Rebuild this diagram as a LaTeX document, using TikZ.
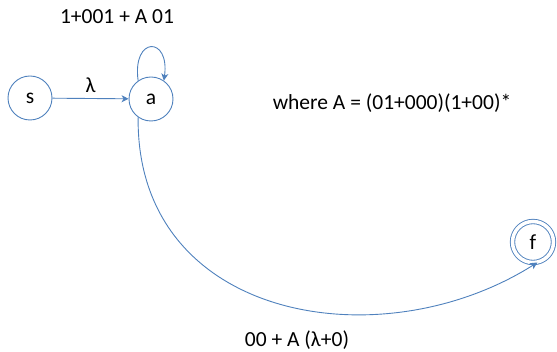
\documentclass[tikz,border=0pt]{standalone}
\usepackage{fontspec}
\setmainfont{Carlito}
\usepackage{tikz}
\usetikzlibrary{arrows.meta,positioning}
\definecolor{edgeblue}{RGB}{79,129,189}

\begin{document}
\begin{tikzpicture}[
  x=1pt, y=-1pt,
  >={Stealth[length=7pt,width=7pt,inset=2pt]},
  state/.style={circle,draw=edgeblue,line width=0.9pt,minimum size=44pt,inner sep=0pt,font=\fontsize{21.5}{25}\selectfont},
  accept/.style={state,minimum size=41pt,double=white,double distance=3.5pt},
  trans/.style={->,draw=edgeblue,line width=0.9pt},
  lab/.style={font=\fontsize{21.5}{25}\selectfont}
]
\useasboundingbox (0,0) rectangle (557,352);

% ===================== states =====================
\node[state] (s) at (30,98) {s};
\node[state] (a) at (151,99) {a};
\node[accept] (f) at (533,242) {f};

% ===================== transitions =====================
\draw[trans] (s) -- (a) node[midway,above=2pt,lab] (lam) {λ};

% loop on a
\draw[trans] (a.125) .. controls (132,36) and (170,36) .. (a.55);
\node[lab] (loopl) at (117,17) {1+001 + A 01};

% a to f, long curve below
\draw[trans] (a.235) .. controls (136,320) and (380,362) .. (f.-78);
\node[lab] (afl) at (297,340) {00 + A (λ+0)};

% text to the right
\node[lab] (where) at (392,103) {where A = (01+000)(1+00)*};

\end{tikzpicture}
\end{document}
